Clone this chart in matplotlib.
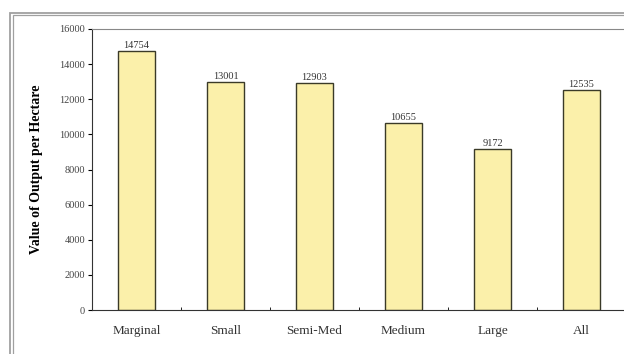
import matplotlib
matplotlib.use("Agg")
import matplotlib.pyplot as plt
from matplotlib.patches import Rectangle

categories = ["Marginal", "Small", "Semi-Med", "Medium", "Large", "All"]
values = [14754, 13001, 12903, 10655, 9172, 12535]
yticks = [0, 2000, 4000, 6000, 8000, 10000, 12000, 14000, 16000]

plt.rcParams['font.family'] = ['Liberation Serif', 'DejaVu Serif']

fig = plt.figure(figsize=(6.24, 3.54), dpi=100)
fig.patch.set_facecolor('white')

# outer double frame
for off, lw in [(0, 1.3), (2.5, 0.9)]:
    fig.patches.append(Rectangle(((10 + off) / 624, -0.05), 1.2, (354 - 13 - off) / 354 + 0.05,
                                 transform=fig.transFigure, fill=False,
                                 edgecolor='#a0a0a0', linewidth=lw))

ax = fig.add_axes([92 / 624, 1 - 310 / 354, 534 / 624, (310 - 29) / 354])
x = range(len(categories))
bars = ax.bar(x, values, width=0.41, color='#FBF0AA', edgecolor='#3a3a28', linewidth=1.0)
for xi, v in zip(x, values):
    ax.text(xi, v + 60, f"{v}", ha='center', va='bottom', fontsize=7.5, color='#333333')

ax.set_xlim(-0.5, 5.5)
ax.set_ylim(0, 16000)
ax.set_yticks(yticks)
ax.set_yticklabels([str(t) for t in yticks], fontsize=7.5, color='#444444')
ax.set_xticks(list(x))
ax.set_xticklabels(categories, fontsize=9.5, color='#333333')
ax.set_xticks([i + 0.5 for i in range(5)], minor=True)
ax.tick_params(axis='x', which='major', length=0, pad=11)
ax.tick_params(axis='x', which='minor', length=2, direction='in')
ax.tick_params(axis='y', length=3, direction='out', pad=2)
ax.set_ylabel("Value of Output per Hectare", fontsize=10, fontweight='bold', labelpad=12)
ax.spines['top'].set_color('#888888')
ax.spines['right'].set_visible(False)
ax.spines['left'].set_color('#333333')
ax.spines['bottom'].set_color('#333333')

fig.savefig("out.png", dpi=100)
